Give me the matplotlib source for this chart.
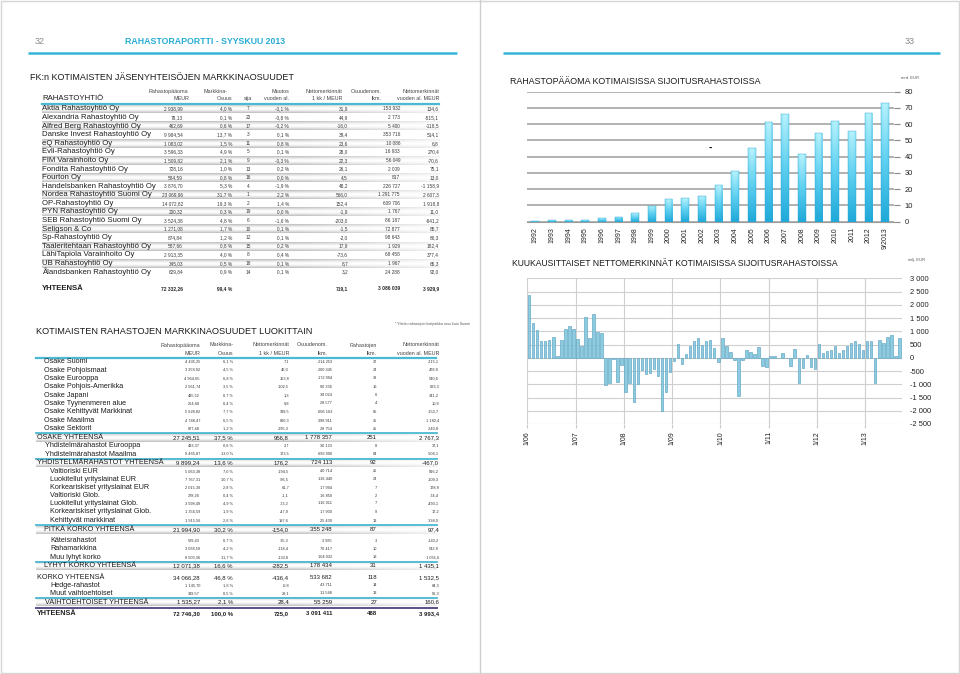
import numpy as np
import matplotlib
matplotlib.use('Agg')
import matplotlib.pyplot as plt
from matplotlib.colors import LinearSegmentedColormap
from matplotlib.patches import Rectangle

plt.rcParams['font.family'] = ['Liberation Sans', 'DejaVu Sans']

# ---------------- data: top table ----------------
top_names = ["Aktia Rahastoyhtiö Oy", "Alexandria Rahastoyhtiö Oy", "Alfred Berg Rahastoyhtiö Oy",
             "Danske Invest Rahastoyhtiö Oy", "eQ Rahastoyhtiö Oy", "Evli-Rahastoyhtiö Oy",
             "FIM Varainhoito Oy", "Fondita Rahastoyhtiö Oy", "Fourton Oy",
             "Handelsbanken Rahastoyhtiö Oy", "Nordea Rahastoyhtiö Suomi Oy", "OP-Rahastoyhtiö Oy",
             "PYN Rahastoyhtiö Oy", "SEB Rahastoyhtiö Suomi Oy", "Seligson & Co", "Sp-Rahastoyhtiö Oy",
             "Taaleritehtaan Rahastoyhtiö Oy", "LähiTapiola Varainhoito Oy", "UB Rahastoyhtiö Oy",
             "Ålandsbanken Rahastoyhtiö Oy"]
top_capital = ["2 938,99", "78,13", "462,69", "9 984,54", "1 083,02", "3 596,33", "1 509,82", "728,16",
               "584,59", "3 876,70", "23 069,96", "14 072,82", "200,32", "3 524,38", "1 271,08", "874,84",
               "587,66", "2 913,35", "345,03", "629,84"]
top_share = ["4,0 %", "0,1 %", "0,6 %", "13,7 %", "1,5 %", "4,9 %", "2,1 %", "1,0 %", "0,8 %", "5,3 %",
             "31,7 %", "19,3 %", "0,3 %", "4,8 %", "1,7 %", "1,2 %", "0,8 %", "4,0 %", "0,5 %", "0,9 %"]
top_rank = ["7", "20", "17", "3", "11", "5", "9", "13", "16", "4", "1", "2", "19", "6", "10", "12",
            "15", "8", "18", "14"]
top_change = ["-0,1 %", "-0,8 %", "-0,2 %", "0,1 %", "0,8 %", "0,1 %", "-0,3 %", "0,2 %", "0,0 %",
              "-1,9 %", "2,2 %", "1,4 %", "0,0 %", "-1,6 %", "0,1 %", "0,1 %", "0,2 %", "0,4 %",
              "0,1 %", "0,1 %"]
top_net1m = ["31,9", "44,9", "-16,0", "39,4", "23,6", "28,0", "22,3", "26,1", "4,5", "48,2", "566,0",
             "152,4", "-1,9", "-203,0", "-1,5", "-2,0", "17,9", "-73,6", "8,7", "3,2"]
top_holders = ["153 932", "2 773", "5 400", "353 716", "10 086", "16 933", "56 049", "2 009", "817",
               "226 727", "1 291 775", "609 706", "1 767", "86 187", "72 877", "98 643", "1 929",
               "68 458", "1 967", "24 288"]
top_netytd = ["134,6", "-515,1", "-118,5", "514,1", "6,8", "270,4", "-70,6", "75,1", "13,0", "-1 158,9",
              "2 607,3", "1 918,8", "11,0", "-641,2", "85,7", "80,3", "182,4", "377,4", "65,3", "92,0"]
top_total = ["YHTEENSÄ", "72 332,26", "99,4 %", "", "", "719,1", "3 086 039", "3 929,9"]

# ---------------- data: bottom table ----------------
bot_names = ["Osake Suomi", "Osake Pohjoismaat", "Osake Eurooppa", "Osake Pohjois-Amerikka",
             "Osake Japani", "Osake Tyynenmeren alue", "Osake Kehittyvät Markkinat", "Osake Maailma",
             "Osake Sektorit", "OSAKE YHTEENSÄ", "Yhdistelmärahastot Eurooppa",
             "Yhdistelmärahastot Maailma", "YHDISTELMÄRAHASTOT YHTEENSÄ", "Valtioriski EUR",
             "Luokitellut yrityslainat EUR", "Korkeariskiset yrityslainat EUR", "Valtioriski Glob.",
             "Luokitellut yrityslainat Glob.", "Korkeariskiset yrityslainat Glob.", "Kehittyvät markkinat",
             "PITKÄ KORKO YHTEENSÄ", "Käteisrahastot", "Rahamarkkina", "Muu lyhyt korko",
             "LYHYT KORKO YHTEENSÄ", "KORKO YHTEENSÄ", "Hedge-rahastot", "Muut vaihtoehtoiset",
             "VAIHTOEHTOISET YHTEENSÄ", "YHTEENSÄ"]
bot_capital = ["4 435,25", "3 258,92", "4 964,65", "2 561,74", "485,52", "264,68", "5 628,82", "4 748,47",
               "877,48", "27 245,51", "433,37", "9 465,87", "9 899,24", "5 063,38", "7 767,31", "2 015,30",
               "278,26", "3 598,49", "1 356,59", "1 915,56", "21 994,90", "529,43", "3 038,59", "8 503,36",
               "12 071,38", "34 066,28", "1 145,70", "389,57", "1 535,27", "72 746,30"]
bot_share = ["6,1 %", "4,5 %", "6,8 %", "3,5 %", "0,7 %", "0,4 %", "7,7 %", "6,5 %", "1,2 %", "37,5 %",
             "0,6 %", "13,0 %", "13,6 %", "7,0 %", "10,7 %", "2,8 %", "0,4 %", "4,9 %", "1,9 %", "2,6 %",
             "30,2 %", "0,7 %", "4,2 %", "11,7 %", "16,6 %", "46,8 %", "1,6 %", "0,5 %", "2,1 %", "100,0 %"]
bot_net1m = ["7,1", "46,0", "153,8", "-102,5", "1,3", "6,8", "339,5", "800,3", "-295,3", "956,8", "2,7",
             "173,5", "176,2", "-194,5", "-96,5", "61,7", "-1,1", "-73,2", "-47,9", "197,6", "-154,0",
             "-35,3", "-118,4", "-130,8", "-282,5", "-436,4", "-0,8", "29,1", "28,4", "725,0"]
bot_holders = ["214 253", "200 345", "172 994", "90 336", "38 024", "28 577", "606 163", "398 911",
               "28 754", "1 778 357", "30 123", "693 990", "724 113", "40 714", "116 440", "17 994",
               "16 850", "116 911", "17 900", "25 439", "355 248", "3 985", "70 417", "104 032",
               "178 434", "533 682", "43 711", "11 548", "55 259", "3 091 411"]
bot_funds = ["37", "24", "39", "16", "6", "4", "65", "35", "25", "251", "8", "84", "92", "25", "24", "7",
             "2", "7", "9", "13", "87", "3", "10", "18", "31", "118", "14", "13", "27", "488"]
bot_netytd = ["-215,1", "478,8", "540,6", "623,3", "341,2", "10,8", "-153,7", "1 182,4", "-240,8",
              "2 767,3", "37,1", "-504,1", "-467,0", "916,2", "-109,3", "178,8", "-74,4", "-493,1",
              "17,2", "-338,0", "97,4", "-143,2", "542,8", "1 035,6", "1 435,1", "1 532,5", "64,3",
              "96,3", "160,6", "3 993,4"]
# row kind: 0 normal, 1 subtotal with band, 2 total without band, 3 grand total
bot_kind = [0]*9 + [1] + [0, 0, 1] + [0]*7 + [1] + [0, 0, 0, 1] + [2] + [0, 0, 1] + [3]
bot_indent = [44]*9 + [37, 45, 45, 37] + [50]*7 + [44, 50, 50, 50, 44, 37, 50, 50, 45, 37]
bot_y = [361.7, 370.0, 378.3, 386.7, 395.1, 403.5, 411.9, 420.5, 428.9, 437.3, 445.7, 454.0, 462.7,
         471.5, 479.5, 487.7, 495.7, 503.5, 511.7, 520.5, 529.3, 541.0, 549.0, 557.3, 565.7, 577.3,
         585.3, 593.5, 602.0, 613.3]

# ---------------- data: charts ----------------
cap_years = ["1992", "1993", "1994", "1995", "1996", "1997", "1998", "1999", "2000", "2001", "2002",
             "2003", "2004", "2005", "2006", "2007", "2008", "2009", "2010", "2011", "2012", "9/2013"]
cap_values = [0.2, 0.8, 1.2, 0.8, 2.0, 3.1, 5.2, 9.9, 13.8, 14.4, 16.1, 22.7, 31.3, 45.4, 61.2, 66.4,
              41.6, 54.6, 61.9, 55.7, 66.8, 73.2]
cap_yticks = [0, 10, 20, 30, 40, 50, 60, 70, 80]

net_2006 = [2380, 1320, 1030, 650, 650, 680, 780, 60, 680, 1080, 1200, 1080]
net_2007 = [700, 440, 1530, 730, 1640, 960, 920, -1040, -960, -60, -930, -270]
net_2008 = [-1280, -950, -1680, -1000, -450, -620, -560, -420, -700, -2000, -1300, -520]
net_2009 = [-120, 530, -250, 130, 450, 650, 760, 500, 620, 660, 380, -150]
net_2010 = [750, 450, 220, -90, -1450, -100, 300, 200, 130, 400, -300, -340]
net_2011 = [80, 50, 0, 170, 0, -300, 320, -950, -400, 100, -350, -430]
net_2012 = [520, 170, 250, 300, 430, 170, 280, 450, 550, 640, 520, 300]
net_2013 = [650, 650, -950, 680, 560, 770, 870, 50, 730]
net_ticklabels = ["1/06", "1/07", "1/08", "1/09", "1/10", "1/11", "1/12", "1/13"]
net_yticks = [-2500, -2000, -1500, -1000, -500, 0, 500, 1000, 1500, 2000, 2500, 3000]

# ---------------- figure ----------------
W, H = 960, 674
fig = plt.figure(figsize=(W / 100, H / 100), dpi=100)
page = fig.add_axes([0, 0, 1, 1])
page.set_xlim(0, W)
page.set_ylim(H, 0)
page.axis('off')

TXT = '#2a2a2a'
CYAN = '#33b5d8'


def T(x, y, s, size=5, ha='left', va='center', color=TXT, weight='normal', **kw):
    page.text(x, y, s, fontsize=size, ha=ha, va=va, color=color, fontweight=weight, **kw)


def band(x0, x1, yc, h=8.6, dark=0.74):
    ny, nx = 24, 80
    v = np.linspace(-1, 1, ny)
    vert = np.abs(v) ** 1.6
    u = np.linspace(0, 1, nx)
    horiz = np.clip((1 - u) / 0.35, 0, 1) * 0.75 + 0.25
    inten = np.outer(vert, horiz)
    g = 1 - inten * (1 - dark)
    rgb = np.dstack([g, g, g])
    page.imshow(rgb, extent=[x0, x1, yc + h / 2, yc - h / 2], aspect='auto',
                interpolation='bilinear', zorder=0)


# page frame / header
page.add_patch(Rectangle((0.5, 0.5), W - 1.5, H - 1.5, fill=False, ec='#d6d6d6', lw=1))
page.plot([480, 480], [0, H], color='#cfcfcf', lw=1)
T(35, 42, '32', size=6.5, color='#8a8a8a')
T(125, 42, 'RAHASTORAPORTTI - SYYSKUU 2013', size=6.3, color='#27add5', weight='bold')
T(905, 42, '33', size=6.5, color='#8a8a8a')
page.plot([28, 457], [52.5, 52.5], color=CYAN, lw=1.8, solid_capstyle='butt')
page.plot([503, 940], [52.5, 52.5], color=CYAN, lw=1.8, solid_capstyle='butt')

# ---------------- top table ----------------
T(30, 78, 'FK:n KOTIMAISTEN JÄSENYHTEISÖJEN MARKKINAOSUUDET', size=6.5, color='#1a1a1a')
hs = 3.9
for s, x in [('Rahastopääoma', 188), ('Markkina-', 227), ('Muutos', 289), ('Nettomerkinnät', 342),
             ('Osuudenom.', 382), ('Nettomerkinnät', 439)]:
    T(x, 91.5, s, size=hs, ha='right', color='#444444')
T(42, 98.8, 'RAHASTOYHTIÖ', size=5.6, color='#1a1a1a')
for s, x in [('MEUR', 189), ('Osuus', 232), ('vuoden al.', 289), ('1 kk / MEUR', 342), ('lkm.', 382),
             ('vuoden al. MEUR', 439)]:
    T(x, 98.8, s, size=hs, ha='right', color='#444444')
T(248, 98.8, 'sija', size=hs, ha='center', color='#444444')

for i in range(len(top_names)):
    y = 109 + 8.58 * i
    if i % 2 == 0:
        band(42, 440, y)
page.plot([42, 439], [103.5, 103.5], color='#4cb9d4', lw=1.6, zorder=3)

top_cols = [(top_capital, 183, 'right'), (top_share, 232, 'right'), (top_rank, 248, 'center'),
            (top_change, 289, 'right'), (top_net1m, 348, 'right'), (top_holders, 400, 'right'),
            (top_netytd, 439, 'right')]
for i, name in enumerate(top_names):
    y = 109 + 8.58 * i
    T(42, y, name, size=5.6, color='#1e1e1e', zorder=4)
    for col, x, ha in top_cols:
        T(x, y, col[i], size=3.4, ha=ha, color='#3a3a3a', zorder=4)
yt = 288.5
T(42, yt, top_total[0], size=5.6, weight='bold', color='#1e1e1e')
for (col, x, ha), s in zip(top_cols, top_total[1:]):
    if s:
        T(x, yt, s, size=3.6, ha=ha, weight='bold', color='#2a2a2a')

# ---------------- bottom table ----------------
T(395, 324, '* Yhtiön rahastojen kotipaikka muu kuin Suomi', size=2.6, color='#555555')
T(36, 331, 'KOTIMAISTEN RAHASTOJEN MARKKINAOSUUDET LUOKITTAIN', size=6.6, color='#1a1a1a')
for s, x in [('Rahastopääoma', 200), ('Markkina-', 234), ('Nettomerkinnät', 289), ('Osuudenom.', 328),
             ('Rahastojen', 377), ('Nettomerkinnät', 439)]:
    T(x, 345, s, size=hs, ha='right', color='#444444')
for s, x in [('MEUR', 200), ('Osuus', 233), ('1 kk / MEUR', 289), ('lkm.', 328), ('lkm.', 377),
             ('vuoden al. MEUR', 439)]:
    T(x, 353.3, s, size=hs, ha='right', color='#444444')
page.plot([36, 436], [357.7, 357.7], color='#4cb9d4', lw=1.6, zorder=3)

bot_cols = [(bot_capital, 200), (bot_share, 233), (bot_net1m, 289), (bot_holders, 332),
            (bot_funds, 377), (bot_netytd, 439)]
for i, name in enumerate(bot_names):
    y = bot_y[i]
    k = bot_kind[i]
    if k == 1:
        band(36, 437, y + 0.3, h=8.2)
        page.plot([36, 437], [y - 4.2, y - 4.2], color='#4cb9d4', lw=1.3, zorder=3)
    if k == 3:
        page.plot([36, 437], [y - 5.8, y - 5.8], color='#5a4f8e', lw=1.4, zorder=3)
    nsize = 5.2
    T(bot_indent[i], y, name, size=nsize, color='#1e1e1e', zorder=4,
      weight='bold' if k == 3 else 'normal')
    vs = 2.8 if k == 0 else 4.3
    for col, x in bot_cols:
        T(x, y, col[i], size=vs, ha='right', color='#333333' if k == 0 else '#1e1e1e', zorder=4,
          weight='bold' if k == 3 else 'normal')


# ---------------- chart helpers ----------------
def px_axes(x0, y0, x1, y1):
    return fig.add_axes([x0 / W, 1 - y1 / H, (x1 - x0) / W, (y1 - y0) / H])


# ---------------- top chart ----------------
T(510, 81, 'RAHASTOPÄÄOMA KOTIMAISISSA SIJOITUSRAHASTOISSA', size=6.4, color='#1a1a1a')
T(901, 78, 'mrd. EUR', size=3.0, color='#555555')
ax1 = px_axes(527, 91.7, 893.5, 221.7)
ax1.set_facecolor('none')
xs = np.arange(len(cap_values))
ax1.set_xlim(-0.5, len(cap_values) - 0.5)
ax1.set_ylim(0, 80)
ax1.set_yticks(cap_yticks)
ax1.yaxis.tick_right()
ax1.tick_params(axis='y', length=4, color='#888888', labelsize=5.4, pad=4, labelcolor='#222222')
ax1.set_xticks(xs)
ax1.set_xticklabels(cap_years, rotation=90, fontsize=5.0, color='#222222')
ax1.tick_params(axis='x', length=0, pad=4)
ax1.grid(axis='y', color='#9c9c9c', lw=1.1)
ax1.set_axisbelow(True)
for sp in ax1.spines.values():
    sp.set_visible(False)
ax1.spines['bottom'].set_visible(True)
ax1.spines['bottom'].set_color('#9c9c9c')
bars = ax1.bar(xs, cap_values, width=0.46, color='none', edgecolor='#2aa8d4', lw=0.3, zorder=3)
cmap_bar = LinearSegmentedColormap.from_list('cy', ['#1fa9da', '#5fd0f0', '#b8f2fc'])
grad = np.linspace(0, 1, 64).reshape(-1, 1)
hgrad = 0.85 + 0.15 * np.sin(np.linspace(0, np.pi, 16))
for b in bars:
    x0 = b.get_x()
    w = b.get_width()
    h = b.get_height()
    img = (np.linspace(0, 1, 64).reshape(-1, 1) * hgrad.reshape(1, -1))
    im = ax1.imshow(img, extent=[x0, x0 + w, 0, h], origin='lower', aspect='auto', cmap=cmap_bar,
                    vmin=0, vmax=1, zorder=2.5, interpolation='bilinear')
    im.set_clip_path(b)
ax1.set_xlim(-0.5, len(cap_values) - 0.5)
ax1.set_ylim(0, 80)
T(709, 148, '-', size=7, weight='bold', color='black')

# ---------------- bottom chart ----------------
T(512, 263, 'KUUKAUSITTAISET NETTOMERKINNÄT KOTIMAISISSA SIJOITUSRAHASTOISSA', size=6.2, color='#1a1a1a')
T(908, 260, 'milj. EUR', size=3.0, color='#555555')
net_values = np.array(net_2006 + net_2007 + net_2008 + net_2009 + net_2010 + net_2011 + net_2012 + net_2013)
ax2 = px_axes(527.3, 278.3, 901.6, 424)
ax2.set_facecolor('none')
ax2.set_xlim(0, 93)
ax2.set_ylim(-2500, 3000)
ax2.set_yticks(net_yticks)
ax2.set_yticklabels([f"{v:,}".replace(',', ' ') for v in net_yticks])
ax2.yaxis.tick_right()
ax2.tick_params(axis='y', length=0, labelsize=5.4, pad=6, labelcolor='#222222')
ax2.set_xticks(np.arange(len(net_ticklabels)) * 12)
ax2.set_xticklabels(net_ticklabels, rotation=90, fontsize=5.0, color='#222222')
ax2.tick_params(axis='x', length=3, color='#c8c8c8', pad=2)
ax2.grid(True, color='#cfcfcf', lw=0.8)
ax2.set_axisbelow(True)
for sp in ax2.spines.values():
    sp.set_visible(False)
ax2.bar(np.arange(len(net_values)) + 0.45, net_values, width=0.62, color='#8ccbe0',
        edgecolor='#4f9cbd', lw=0.4, zorder=3)

fig.savefig('out.png', dpi=100)
